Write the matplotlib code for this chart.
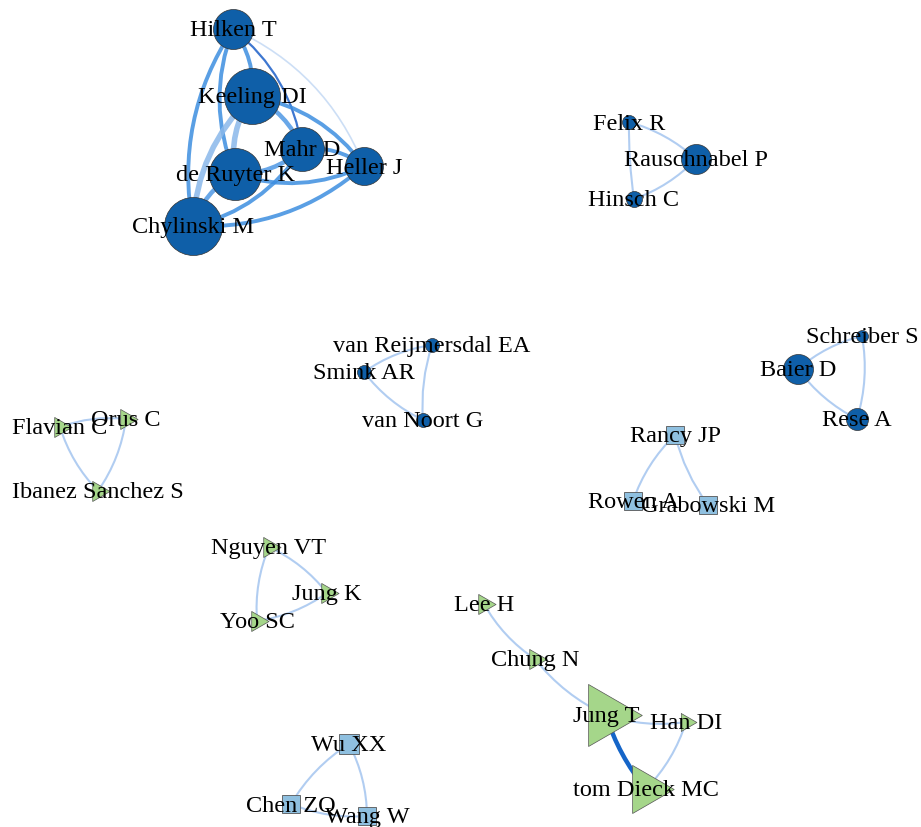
import numpy as np
import matplotlib.pyplot as plt
from matplotlib.path import Path
from matplotlib.patches import PathPatch

# Nodes: label, x, y (layout position, px), weight, group
names = ['Hilken T', 'Keeling DI', 'Mahr D', 'Heller J', 'de Ruyter K', 'Chylinski M',
         'Felix R', 'Rauschnabel P', 'Hinsch C',
         'van Reijmersdal EA', 'Smink AR', 'van Noort G',
         'Schreiber S', 'Baier D', 'Rese A',
         'Rancy JP', 'Rowen A', 'Grabowski M',
         'Flavian C', 'Orus C', 'Ibanez Sanchez S',
         'Nguyen VT', 'Jung K', 'Yoo SC',
         'Lee H', 'Chung N', 'Jung T', 'Han DI', 'tom Dieck MC',
         'Wu XX', 'Chen ZQ', 'Wang W']
node_x = [233, 252, 302, 364, 235, 193,
          629, 696, 634,
          432, 364, 423,
          862, 798, 857,
          675, 633, 708,
          60, 126, 98,
          269, 327, 257,
          484, 535, 606, 686, 646,
          349, 291, 367]
node_y = [30, 97, 150, 167, 175, 227,
          123, 160, 200,
          346, 373, 421,
          337, 370, 420,
          436, 502, 506,
          428, 420, 492,
          548, 594, 622,
          605, 660, 716, 723, 790,
          745, 805, 817]
node_w = [20, 28, 22, 19, 26, 29,
          7, 15, 8,
          7, 7, 7,
          6, 15, 11,
          7, 7, 7,
          10, 10, 10,
          10, 10, 10,
          10, 10, 31, 9, 24,
          8, 7.5, 7]
group = [0] * 15 + [1] * 3 + [2] * 14

# Edges: (source, target, strength)
edges = [
    ('Hilken T', 'Keeling DI', 3), ('Hilken T', 'Chylinski M', 3), ('Hilken T', 'de Ruyter K', 3),
    ('Hilken T', 'Mahr D', 2), ('Hilken T', 'Heller J', 1),
    ('Keeling DI', 'Mahr D', 4), ('Keeling DI', 'Heller J', 3), ('Keeling DI', 'de Ruyter K', 5),
    ('Keeling DI', 'Chylinski M', 5),
    ('Mahr D', 'Heller J', 3), ('Mahr D', 'de Ruyter K', 4), ('Mahr D', 'Chylinski M', 3),
    ('Heller J', 'de Ruyter K', 3), ('Heller J', 'Chylinski M', 3), ('de Ruyter K', 'Chylinski M', 4),
    ('Felix R', 'Rauschnabel P', 1), ('Felix R', 'Hinsch C', 1), ('Hinsch C', 'Rauschnabel P', 1),
    ('van Reijmersdal EA', 'Smink AR', 1), ('Smink AR', 'van Noort G', 1), ('van Reijmersdal EA', 'van Noort G', 1),
    ('Schreiber S', 'Baier D', 1), ('Schreiber S', 'Rese A', 1), ('Baier D', 'Rese A', 1),
    ('Rancy JP', 'Rowen A', 1), ('Rancy JP', 'Grabowski M', 1),
    ('Flavian C', 'Orus C', 1), ('Flavian C', 'Ibanez Sanchez S', 1), ('Orus C', 'Ibanez Sanchez S', 1),
    ('Nguyen VT', 'Jung K', 1), ('Nguyen VT', 'Yoo SC', 1), ('Yoo SC', 'Jung K', 1),
    ('Lee H', 'Chung N', 1), ('Chung N', 'Jung T', 1), ('Jung T', 'Han DI', 1),
    ('Han DI', 'tom Dieck MC', 1), ('Jung T', 'tom Dieck MC', 6),
    ('Wu XX', 'Chen ZQ', 1), ('Wu XX', 'Wang W', 1), ('Chen ZQ', 'Wang W', 1),
]

idx = {n: i for i, n in enumerate(names)}
pos = np.column_stack([node_x, node_y]).astype(float)

# bend of each edge (positive = away from its cluster centre)
bend = [0.2 if idx[a] < 6 else 0.12 for a, b, s in edges]
bend[edges.index(('Jung T', 'tom Dieck MC', 6))] = -0.1
bend[edges.index(('van Reijmersdal EA', 'van Noort G', 1))] = -0.1
bend[edges.index(('Rancy JP', 'Grabowski M', 1))] = -0.1
bend[edges.index(('Felix R', 'Hinsch C', 1))] = 0.04

# connected components, used to bend edges outward
comp = list(range(len(names)))
def find(i):
    while comp[i] != i:
        i = comp[i]
    return i
for a, b, _ in edges:
    comp[find(idx[a])] = find(idx[b])
roots = [find(i) for i in range(len(names))]
centroid = {r: pos[[i for i in range(len(names)) if roots[i] == r]].mean(axis=0) for r in set(roots)}

fig = plt.figure(figsize=(9.21, 8.28), dpi=100)
ax = fig.add_axes([0, 0, 1, 1])
ax.set_xlim(0, 921)
ax.set_ylim(828, 0)
ax.set_aspect('equal')
ax.axis('off')

strong_cols = {1: '#c4d9f4', 2: '#1c5fc8', 3: '#3d8ee0', 4: '#4f98e4', 5: '#8ab8ea'}
strong_lw = {1: 1.2, 2: 1.6, 3: 2.8, 4: 3.2, 5: 4.0}
for k, (a, b, s) in enumerate(edges):
    p1, p2 = pos[idx[a]], pos[idx[b]]
    mid = (p1 + p2) / 2
    d = p2 - p1
    perp = np.array([d[1], -d[0]])
    c = centroid[roots[idx[a]]]
    if np.dot(perp, mid - c) < 0:
        perp = -perp
    ctrl = mid + bend[k] * perp
    path = Path([p1, ctrl, p2], [Path.MOVETO, Path.CURVE3, Path.CURVE3])
    if roots[idx[a]] == roots[idx['Hilken T']]:
        col, lw, alpha = strong_cols[s], strong_lw[s], 0.85
    elif s > 1:
        col, lw, alpha = '#1565c8', 3.2, 1.0
    else:
        col, lw, alpha = '#a9c8f0', 1.5, 0.9
    ax.add_patch(PathPatch(path, facecolor='none', edgecolor=col, lw=lw, alpha=alpha, zorder=1))

# right-pointing triangle centred on its centroid
tri = [(-0.577, 1.0), (1.155, 0.0), (-0.577, -1.0), (-0.577, 1.0)]

for i, n in enumerate(names):
    w = node_w[i]
    if group[i] == 0:
        ax.plot(node_x[i], node_y[i], 'o', ms=2 * w * 0.72, mfc='#0f5fa8', mec='#333333', mew=0.5, zorder=2)
    elif group[i] == 1 or n in ('Wu XX', 'Chen ZQ', 'Wang W'):
        ax.plot(node_x[i], node_y[i], 's', ms=2 * w * 0.72 * 1.25, mfc='#8fc0e0', mec='#555555', mew=0.6, zorder=2)
    else:
        ax.plot(node_x[i], node_y[i], marker=tri, ms=2 * w * 0.72 / 0.866, mfc='#a5d68a',
                mec='#555555', mew=0.5, ls='none', zorder=2)
    ax.text(node_x[i], node_y[i] + 1, n, ha='center', va='center', fontsize=17.5,
            family='Liberation Serif', color='black', zorder=3)

fig.savefig('out.png', dpi=100)
